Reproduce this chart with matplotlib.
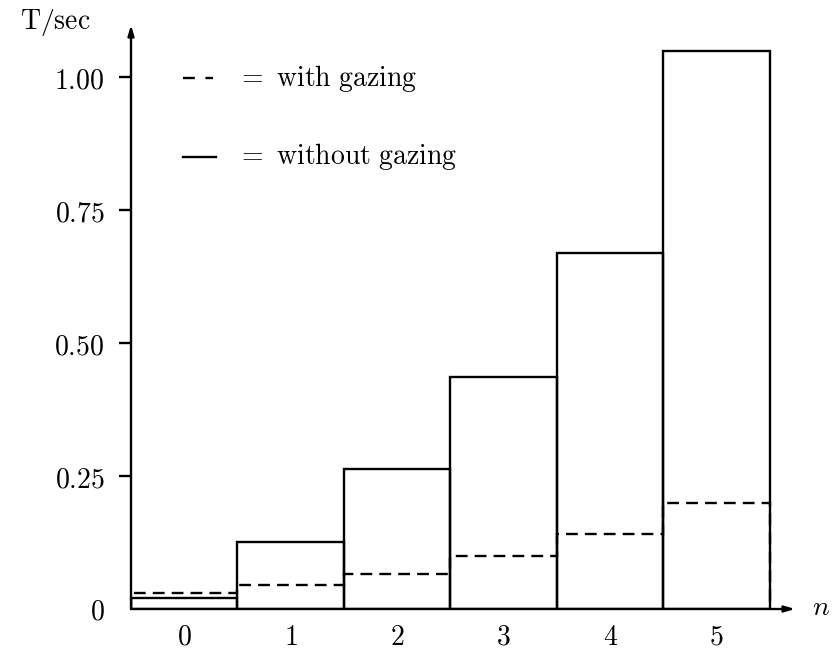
import numpy as np
import matplotlib
matplotlib.use("Agg")
import matplotlib.pyplot as plt
from matplotlib.lines import Line2D

plt.rcParams['mathtext.fontset'] = 'cm'

categories = ['0', '1', '2', '3', '4', '5']
without_gazing = [0.021, 0.126, 0.263, 0.436, 0.669, 1.049]
with_gazing = [0.030, 0.045, 0.066, 0.100, 0.141, 0.200]
ytick_values = [0, 0.25, 0.50, 0.75, 1.00]
ytick_labels = ['0', '0.25', '0.50', '0.75', '1.00']

W, H = 833, 654
fig = plt.figure(figsize=(W / 100, H / 100), dpi=100)
left, right, bottom, top = 131, 795, 45, 629
ax = fig.add_axes([left / W, bottom / H, (right - left) / W, (top - bottom) / H])

x = np.arange(len(categories))
lw = 1.7
dash = (0, (5.0, 3.0))
ax.bar(x, without_gazing, width=1.0, fill=False, edgecolor='black', linewidth=lw, zorder=3)
edges = np.arange(len(categories) + 1) - 0.5
ax.stairs(with_gazing, edges, baseline=0, fill=False, color='black',
          linewidth=lw, linestyle=dash, zorder=2)

ax.set_xlim(-0.5, 5.735)
ax.set_ylim(0, 1.098)
for s in ax.spines.values():
    s.set_visible(False)

# axes with arrows
ax.annotate('', xy=(1.0, 0), xycoords='axes fraction', xytext=(0, 0),
            arrowprops=dict(arrowstyle='-|>,head_length=0.6,head_width=0.18', color='black', lw=lw,
                            shrinkA=0, shrinkB=0))
ax.annotate('', xy=(0, 1.0), xycoords='axes fraction', xytext=(0, 0),
            arrowprops=dict(arrowstyle='-|>,head_length=0.6,head_width=0.18', color='black', lw=lw,
                            shrinkA=0, shrinkB=0))

fs = 20
ax.set_yticks(ytick_values)
ax.set_yticklabels(['$\\mathrm{%s}$' % t for t in ytick_labels], fontsize=fs)
ax.tick_params(axis='y', length=9, width=lw, direction='out', pad=10)
ax.yaxis.get_major_ticks()[0].tick1line.set_visible(False)
ax.set_xticks(x)
ax.set_xticklabels(['$\\mathrm{%s}$' % c for c in categories], fontsize=fs)
ax.tick_params(axis='x', length=0, pad=10)

fig.text(20 / W, 1 - 22 / H, '$\\mathrm{T/sec}$', fontsize=fs, ha='left', va='center')
fig.text(812 / W, 1 - 607 / H, '$n$', fontsize=fs, ha='left', va='center')

# legend
fig.add_artist(Line2D([183 / W, 213 / W], [1 - 78 / H, 1 - 78 / H], color='black', lw=lw,
                      linestyle=(0, (5.0, 4.5))))
fig.add_artist(Line2D([183 / W, 216 / W], [1 - 157 / H, 1 - 157 / H], color='black', lw=lw))
fig.text(237 / W, 1 - 78 / H, '$\\mathrm{=\\ with\\ gazing}$', fontsize=fs, ha='left', va='center')
fig.text(237 / W, 1 - 157 / H, '$\\mathrm{=\\ without\\ gazing}$', fontsize=fs, ha='left', va='center')

fig.savefig('out.png', dpi=100)
